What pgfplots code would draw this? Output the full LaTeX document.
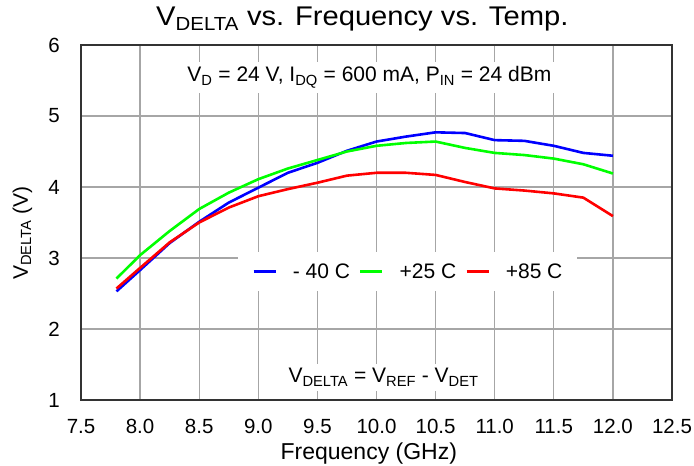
\documentclass[border=0pt]{standalone}
\usepackage{fontspec}
\setmainfont{Liberation Sans}
\newfontfamily\titlefont[FakeStretch=1.08]{Liberation Sans}
\usepackage{pgfplots}
\pgfplotsset{compat=1.18}

\definecolor{framegray}{HTML}{333333}
\definecolor{gridgray}{HTML}{A6A6A6}

\newcommand{\lbl}{\fontsize{21}{25}\selectfont}

\begin{document}
\begin{tikzpicture}
\begin{axis}[
    scale only axis,
    width=591pt, height=355pt,
    xmin=7.5, xmax=12.5,
    ymin=1, ymax=6,
    xtick={7.5,8,...,12.5},
    ytick={1,2,...,6},
    /pgf/number format/assume math mode=true,
    xticklabel={\pgfmathprintnumber[fixed,fixed zerofill,precision=1]{\tick}},
    major tick length=0pt,
    grid=major,
    grid style={gridgray, line width=1.3pt},
    axis line style={framegray, line width=2pt},
    ticklabel style={font=\fontsize{20.5}{24}\selectfont, inner sep=0pt},
    xticklabel style={anchor=base, yshift=-34pt},
    yticklabel style={anchor=east, xshift=-21pt},
    xlabel={Frequency (GHz)},
    xlabel style={font=\fontsize{23}{27}\selectfont, at={(axis description cs:0.487,0)}, anchor=base, yshift=-60pt, inner sep=0pt},
    ylabel={V\textsubscript{DELTA} (V)},
    ylabel style={font=\lbl, at={(axis description cs:-0.0897,0.47)}, anchor=base, rotate=0, inner sep=0pt},
    title={V\textsubscript{DELTA} vs. Frequency vs. Temp.},
    title style={font=\titlefont\fontsize{27}{31}\selectfont, at={(axis description cs:0.476,1)}, anchor=base, yshift=13pt, inner sep=0pt},
    legend columns=3,
    legend image code/.code={\draw[#1] (0pt,0pt) -- (22pt,0pt);},
    legend style={
        draw=none, fill=white, font=\lbl,
        at={(0.553,0.362)}, anchor=center,
        inner xsep=14pt, inner ysep=10pt,
        nodes={inner sep=1pt},
        /tikz/every even column/.append style={column sep=8pt},
        /tikz/every odd column/.append style={column sep=15pt},
    },
    every axis plot/.append style={line width=2.6pt},
]
\addplot[blue] coordinates {
    (7.8,2.53) (8.0,2.83) (8.25,3.21) (8.5,3.51) (8.75,3.78) (9.0,3.99)
    (9.25,4.20) (9.5,4.34) (9.75,4.51) (10.0,4.64) (10.25,4.71) (10.5,4.77)
    (10.75,4.76) (11.0,4.66) (11.25,4.65) (11.5,4.58) (11.75,4.48) (12.0,4.44)
};
\addplot[green] coordinates {
    (7.8,2.71) (8.0,3.04) (8.25,3.38) (8.5,3.69) (8.75,3.92) (9.0,4.11)
    (9.25,4.26) (9.5,4.38) (9.75,4.50) (10.0,4.58) (10.25,4.62) (10.5,4.64)
    (10.75,4.55) (11.0,4.48) (11.25,4.45) (11.5,4.40) (11.75,4.32) (12.0,4.19)
};
\addplot[red] coordinates {
    (7.8,2.57) (8.0,2.86) (8.25,3.22) (8.5,3.50) (8.75,3.71) (9.0,3.87)
    (9.25,3.97) (9.5,4.06) (9.75,4.16) (10.0,4.20) (10.25,4.20) (10.5,4.17)
    (10.75,4.07) (11.0,3.98) (11.25,3.95) (11.5,3.91) (11.75,3.85) (12.0,3.59)
};
\legend{- 40 C, +25 C, +85 C}

\node[fill=white, anchor=base, inner xsep=4pt, inner ysep=5pt, font=\lbl]
    at (rel axis cs:0.488,0.896)
    {V\textsubscript{D} = 24 V, I\textsubscript{DQ} = 600 mA, P\textsubscript{IN} = 24 dBm};
\node[fill=white, anchor=base, inner xsep=4pt, inner ysep=5pt, font=\lbl]
    at (rel axis cs:0.512,0.048)
    {V\textsubscript{DELTA} = V\textsubscript{REF} - V\textsubscript{DET}};

\coordinate (bl) at (rel axis cs:0,0);
\coordinate (tr) at (rel axis cs:1,1);
\end{axis}
\path ([shift={(-81pt,-66pt)}]bl) rectangle ([shift={(22pt,45pt)}]tr);
\end{tikzpicture}
\end{document}
